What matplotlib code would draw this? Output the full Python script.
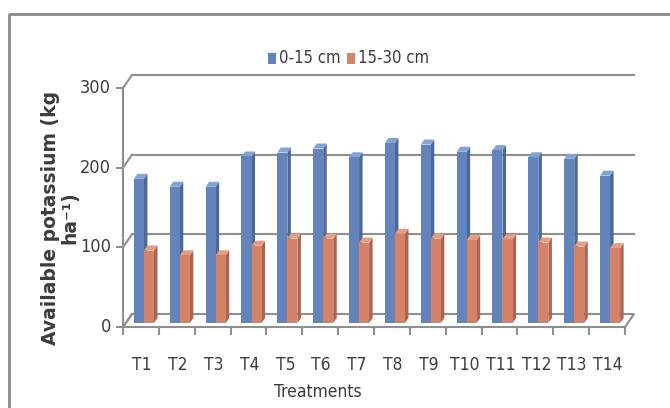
import matplotlib.pyplot as plt
from matplotlib.patches import Polygon
from matplotlib.lines import Line2D
from matplotlib.transforms import IdentityTransform
from matplotlib import font_manager

# Data
treatments = ['T1', 'T2', 'T3', 'T4', 'T5', 'T6', 'T7',
              'T8', 'T9', 'T10', 'T11', 'T12', 'T13', 'T14']
k_0_15 = [181, 171, 171, 209, 214, 219, 208, 226, 224, 215, 217, 208, 206, 185]
k_15_30 = [91, 85, 85, 97, 106, 106, 101, 112, 106, 104, 105, 101, 96, 94]
y_ticks = [0, 100, 200, 300]
series_names = ['0-15 cm', '15-30 cm']

# Colours (front, side, top)
blue = ('#6384bb', '#4a6999', '#86a3d0')
orange = ('#d4826a', '#ad634c', '#e29f88')
grid_col = '#8f8f8f'
text_col = '#3c3c3c'

# Narrow face for the Calibri-like labels
narrow = font_manager.FontProperties(family='DejaVu Sans', stretch='condensed')

W, H = 670, 408
fig = plt.figure(figsize=(W / 100, H / 100), dpi=100)
ax = fig.add_axes([123 / W, (H - 327) / H, 502 / W, 239 / H])
ax.set_xlim(0, len(treatments))
ax.set_ylim(0, 300)
ax.axis('off')

pix = IdentityTransform()
wall = (9, 13)      # depth of the 3D box in pixels
shift = (3, 4)      # where the bars sit inside the box
bdep = (3.5, 5)     # depth of each bar


def px(x, y, off=(0, 0)):
    X, Y = ax.transData.transform((x, y))
    return (X + off[0], Y + off[1])


def line(p, q, **kw):
    fig.add_artist(Line2D([p[0], q[0]], [p[1], q[1]], transform=pix,
                          color=grid_col, lw=1.5, **kw))


def poly(pts, color, z):
    fig.add_artist(Polygon(pts, closed=True, transform=pix, facecolor=color,
                           edgecolor='none', zorder=z))


def label(x, y, s, size, **kw):
    fp = narrow.copy()
    fp.set_size(size)
    fig.text(x, y, s, transform=pix, fontproperties=fp, color=text_col, **kw)


# Outer chart border
fig.add_artist(Line2D([9, 9, W], [0, H - 14, H - 14], transform=pix,
                      color='#8a8a8a', lw=2))

# Floor
n = len(treatments)
floor = [px(0, 0), px(n, 0), px(n, 0, wall), px(0, 0, wall)]
fig.add_artist(Polygon(floor, closed=True, transform=pix, facecolor='white',
                       edgecolor=grid_col, lw=1.5, zorder=1))

# Walls, gridlines and y ticks
line(px(0, 0), px(0, 300), zorder=1)
for t in y_ticks:
    if t > 0:
        line(px(0, t, wall), px(n, t, wall), zorder=1)
    line(px(0, t), px(0, t, wall), zorder=1)
    line(px(0, t, (-6, 0)), px(0, t), zorder=1)
    p = px(0, t)
    label(p[0] - 12, p[1], str(t), 13, ha='right', va='center')

# Category ticks
for i in range(n + 1):
    line(px(i, 0), px(i, 0, (0, -7)), zorder=1)

# 3D bars
bw = 0.28
z = 3
for i in range(n):
    c = i + 0.5
    for x0, v, col in [(c - bw, k_0_15[i], blue), (c, k_15_30[i], orange)]:
        x1 = x0 + bw
        a, b = px(x0, 0, shift), px(x1, 0, shift)
        tl, tr = px(x0, v, shift), px(x1, v, shift)
        side = [b, tr, (tr[0] + bdep[0], tr[1] + bdep[1]),
                (b[0] + bdep[0], b[1] + bdep[1])]
        top = [tl, tr, (tr[0] + bdep[0], tr[1] + bdep[1]),
               (tl[0] + bdep[0], tl[1] + bdep[1])]
        poly(side, col[1], z)
        poly(top, col[2], z)
        poly([a, b, tr, tl], col[0], z)
        z += 1

# Category labels
for i, name in enumerate(treatments):
    p = px(i + 0.5, 0)
    label(p[0] + 1, 43, name, 12.5, ha='center', va='center')

label(318, 16, 'Treatments', 12.5, ha='center', va='center')

# Legend
for (x, name), col in zip([(268, series_names[0]), (347, series_names[1])],
                          [blue, orange]):
    fig.add_artist(Polygon([(x, H - 64), (x + 8, H - 64), (x + 8, H - 53),
                            (x, H - 53)], transform=pix, facecolor=col[0],
                           edgecolor='none'))
    label(x + 11, H - 58, name, 12, ha='left', va='center')

# Y axis title
fig.text(60, H - 218, 'Available potassium (kg\nha⁻¹)', transform=pix,
         rotation=90, ha='center', va='center', multialignment='center',
         fontsize=13.5, fontweight='bold', color=text_col, linespacing=1.0)

fig.savefig('out.png', dpi=100)
